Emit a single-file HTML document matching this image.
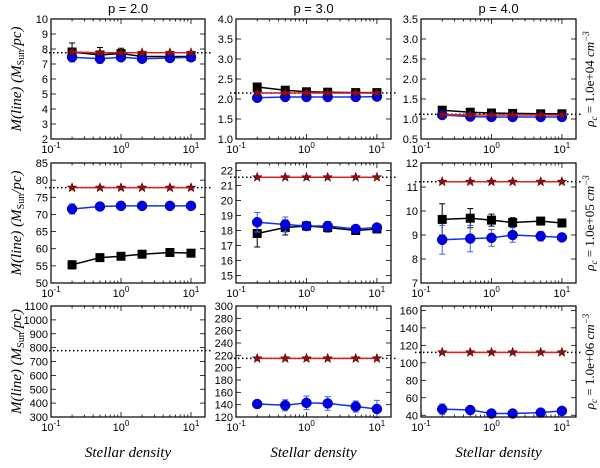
<!DOCTYPE html>
<html><head><meta charset="utf-8"><style>
body{margin:0;background:#fff}
svg text{font-family:"Liberation Sans",sans-serif}
.it{font-family:"Liberation Serif",serif;font-style:italic}
</style></head><body>
<svg id="c" width="600" height="463" viewBox="0 0 600 463" xmlns="http://www.w3.org/2000/svg"></svg>
<script>
const xs=[0.2,0.5,1,2,5,10];
const colTitles=["p = 2.0","p = 3.0","p = 4.0"];
const rowLabels=["1.0e+04","1.0e+05","1.0e+06"];
const yLims=[[[2,10],[1,4],[0.5,3.5]],[[50,85],[14.5,22.5],[7,12]],[[300,1100],[120,300],[38,165]]];
const yTicks=[[[2,3,4,5,6,7,8,9,10],[1,1.5,2,2.5,3,3.5,4],[0.5,1,1.5,2,2.5,3,3.5]],[[50,55,60,65,70,75,80,85],[15,16,17,18,19,20,21,22],[7,8,9,10,11,12]],[[300,400,500,600,700,800,900,1000,1100],[120,140,160,180,200,220,240,260,280,300],[40,60,80,100,120,140,160]]];
const yTickFmt=[[0,1,1],[0,0,0],[0,0,0]];
const refLine=[[7.75,2.15,1.12],[77.8,21.55,11.22],[778,215,112]];
const blackVals=[[[7.8,7.6,7.7,7.5,7.5,7.5],[2.3,2.22,2.18,2.17,2.16,2.16],[1.22,1.17,1.15,1.14,1.13,1.13]],[[55.3,57.4,57.8,58.4,58.9,58.7],[17.8,18.2,18.3,18.2,18.0,18.1],[9.65,9.7,9.62,9.52,9.58,9.5]],[null,null,null]];
const blackErr=[[[0.6,0.5,0.35,0.3,0.3,0.25],[0.05,0.04,0.03,0.03,0.02,0.02],[0.04,0.03,0.02,0.02,0.02,0.02]],[[1.2,0.8,0.6,0.5,0.5,0.5],[0.9,0.5,0.3,0.3,0.2,0.2],[0.65,0.4,0.25,0.2,0.1,0.1]],[null,null,null]];
const redVals=[[[7.8,7.75,7.75,7.75,7.75,7.75],[2.15,2.15,2.15,2.15,2.15,2.15],[1.11,1.1,1.1,1.1,1.1,1.1]],[[77.8,77.8,77.8,77.8,77.8,77.8],[21.55,21.55,21.55,21.55,21.55,21.55],[11.22,11.22,11.22,11.22,11.22,11.22]],[null,[215,215,215,215,215,215],[112,112,112,112,112,112]]];
const blueVals=[[[7.45,7.35,7.45,7.35,7.4,7.45],[2.03,2.05,2.05,2.05,2.05,2.06],[1.1,1.06,1.05,1.05,1.05,1.05]],[[71.6,72.3,72.5,72.5,72.5,72.5],[18.55,18.4,18.3,18.3,18.1,18.2],[8.8,8.85,8.88,9.0,8.95,8.9]],[null,[141,139,143,142,137,133],[47,46,42,42,43,45]]];
const blueErr=[[[0.3,0.3,0.2,0.2,0.25,0.2],[0.04,0.03,0.02,0.02,0.02,0.02],[0.03,0.02,0.02,0.02,0.02,0.02]],[[1.5,0.6,0.4,0.3,0.3,0.3],[0.65,0.5,0.3,0.3,0.2,0.2],[0.6,0.55,0.35,0.3,0.2,0.1]],[null,[4,9,11,11,9,14],[6,4,2,2,2,2]]];

const NS="http://www.w3.org/2000/svg";
const svg=document.getElementById('c');
const colX=[[51,205],[236,391],[421,576]];
const rowY=[[19,139],[163,283],[306,417]];
function el(t,a,p){const e=document.createElementNS(NS,t);for(const k in a)e.setAttribute(k,a[k]);(p||svg).appendChild(e);return e;}
function sx(c,v){const [l,r]=colX[c];return l+(Math.log10(v)+1)/2.2*(r-l);}
function sy(r,c,v){const [t,b]=rowY[r];const [lo,hi]=yLims[r][c];return b-(v-lo)/(hi-lo)*(b-t);}
function star(cx,cy,R){let p=[];for(let i=0;i<10;i++){const a=-Math.PI/2+i*Math.PI/5;const rr=i%2?R*0.42:R;p.push((cx+rr*Math.cos(a)).toFixed(1)+','+(cy+rr*Math.sin(a)).toFixed(1));}return p.join(' ');}

for(let r=0;r<3;r++)for(let c=0;c<3;c++){
  const g=el('g',{});
  
  
  const [l,rt]=colX[c],[t,b]=rowY[r];
  // x ticks
  for(let d=-1;d<=1;d++)for(let m=1;m<10;m++){
    const v=m*Math.pow(10,d);const lv=Math.log10(v);if(lv>1.2)continue;
    const x=sx(c,v);const len=m==1?5:2.5;
    el('line',{x1:x,x2:x,y1:b,y2:b-len,stroke:'#000','stroke-width':0.8},g);
    el('line',{x1:x,x2:x,y1:t,y2:t+len,stroke:'#000','stroke-width':0.8},g);
    if(m==1){const tx=el('text',{x:x,y:b+14,'font-size':11,'text-anchor':'middle'},g);tx.textContent='10';
      const sp=el('tspan',{dy:-5,'font-size':8},tx);sp.textContent=d;}
  }
  // y ticks
  yTicks[r][c].forEach(v=>{const y=sy(r,c,v);
    el('line',{x1:l,x2:l+5,y1:y,y2:y,stroke:'#000','stroke-width':0.8},g);
    el('line',{x1:rt,x2:rt-5,y1:y,y2:y,stroke:'#000','stroke-width':0.8},g);
    const tx=el('text',{x:l-3,y:y+4,'font-size':11,'text-anchor':'end'},g);
    tx.textContent=yTickFmt[r][c]?v.toFixed(1):String(v);});
  // reference dotted line
  const ry=sy(r,c,refLine[r][c]);
  const rl=el('line',{x1:l-6,x2:rt+6,y1:ry,y2:ry,stroke:'#000','stroke-width':1.5,'stroke-dasharray':'1.5,2.5'},g);
  
  
  function series(vals,errs,color,ecol,kind){
    if(!vals)return;
    const pts=xs.map((x,i)=>[sx(c,x),sy(r,c,vals[i])]);
    const pl=el('polyline',{points:pts.map(p=>p.join(',')).join(' '),fill:'none',stroke:color,'stroke-width':1.5},g);
    
    
    if(errs)xs.forEach((x,i)=>{const X=sx(c,x),y1=sy(r,c,vals[i]-errs[i]),y2=sy(r,c,vals[i]+errs[i]);
      el('line',{x1:X,x2:X,y1:y1,y2:y2,stroke:ecol,'stroke-width':1},g);
      el('line',{x1:X-3,x2:X+3,y1:y1,y2:y1,stroke:ecol,'stroke-width':1},g);
      el('line',{x1:X-3,x2:X+3,y1:y2,y2:y2,stroke:ecol,'stroke-width':1},g);});
    pts.forEach(p=>{let m;
      if(kind=='black')m=el('rect',{x:p[0]-4.5,y:p[1]-4.5,width:9,height:9,fill:'#000'},g);
      else if(kind=='blue')m=el('circle',{cx:p[0],cy:p[1],r:5,fill:'#0000e0',stroke:'#0000a0','stroke-width':0.5},g);
      else m=el('polygon',{points:star(p[0],p[1],5),fill:'#8b1010',stroke:'#400','stroke-width':0.5},g);
      
      });
  }
  series(blackVals[r][c],blackErr[r][c],'#000','#000','black');
  series(blueVals[r][c],blueErr[r][c],'#1030f0','#4060f0','blue');
  series(redVals[r][c],null,'#e02020','#e02020','red');
  el('rect',{x:l,y:t,width:rt-l,height:b-t,fill:'none',stroke:'#000','stroke-width':1.2},g);
}
colTitles.forEach((s,c)=>{const t=el('text',{x:(colX[c][0]+colX[c][1])/2,y:13,'font-size':13,'text-anchor':'middle'});t.textContent=s;
  
  });
for(let r=0;r<3;r++){
  const cy=(rowY[r][0]+rowY[r][1])/2;
  const yl=el('text',{x:0,y:0,'font-size':15,'text-anchor':'middle',class:'it',transform:`translate(21,${cy}) rotate(-90)`});
  yl.innerHTML='M(line) (M<tspan font-size="10" dy="3" font-style="normal">Sun</tspan><tspan dy="-3">/pc)</tspan>';
  
  
  const rl=el('text',{x:0,y:0,'font-size':13,'text-anchor':'middle',class:'it',transform:`translate(594,${cy}) rotate(-90)`});
  rl.innerHTML='ρ<tspan font-size="9" dy="3">c</tspan><tspan dy="-3" font-style="normal"> = '+rowLabels[r]+' </tspan>cm<tspan font-size="9" dy="-5">−3</tspan>';
  
  
}
for(let c=0;c<3;c++){const t=el('text',{x:(colX[c][0]+colX[c][1])/2,y:457,'font-size':15,'text-anchor':'middle',class:'it'});t.textContent='Stellar density';
  
  }
</script>
</body></html>
